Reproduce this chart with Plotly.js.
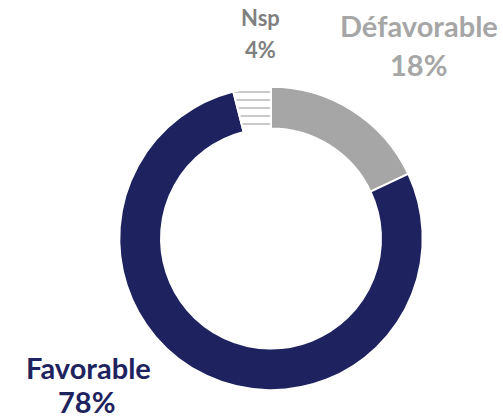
<!DOCTYPE html>
<html>
<head>
<meta charset="utf-8">
<script src="https://cdn.plot.ly/plotly-3.0.1.min.js"></script>
<style>html,body{margin:0;padding:0;background:#fff;}#chart{width:503px;height:418px;}</style>
</head>
<body>
<div id="chart"></div>
<script>
const labels = ["Défavorable", "Favorable", "Nsp"];
const values = [18, 78, 4];
const colors = ["#A6A6A6", "#1E2360", "#FFFFFF"];
const textColors = ["#A6A6A6", "#1E2360", "#7F7F7F"];
const patternShapes = ["", "", "-"];

// label (line 1) and value (line 2) centre positions, in pixels
const labelPos = [
  {x: 419, y: 25, vx: 418, vy: 65, size: 29},
  {x: 88.5, y: 367, vx: 86, vy: 401, size: 29},
  {x: 260.5, y: 17, vx: 260, vy: 50, size: 22}
];

const W = 503, H = 418;
const cx = 271, cy = 238.5, R = 151.7;

const trace = {
  type: "pie",
  labels: labels,
  values: values,
  sort: false,
  direction: "clockwise",
  rotation: 0,
  hole: 0.725,
  textinfo: "none",
  hoverinfo: "label+percent",
  marker: {
    colors: colors,
    line: {color: "#FFFFFF", width: 2},
    pattern: {
      shape: patternShapes,
      fgcolor: "#A6A6A6",
      bgcolor: colors,
      size: 8,
      solidity: 0.15
    }
  },
  domain: {
    x: [(cx - R) / W, (cx + R) / W],
    y: [(H - cy - R) / H, (H - cy + R) / H]
  },
  showlegend: false
};

const annotations = [];
labels.forEach((lab, i) => {
  const p = labelPos[i];
  const font = {family: "Lato, 'Open Sans', sans-serif", size: p.size, color: textColors[i], weight: 700};
  annotations.push({
    x: p.x / W, y: 1 - p.y / H, xref: "paper", yref: "paper",
    xanchor: "center", yanchor: "middle", showarrow: false,
    text: "<b>" + lab + "</b>", font: font
  });
  annotations.push({
    x: p.vx / W, y: 1 - p.vy / H, xref: "paper", yref: "paper",
    xanchor: "center", yanchor: "middle", showarrow: false,
    text: "<b>" + values[i] + "%</b>", font: font
  });
});

const layout = {
  width: W, height: H,
  margin: {l: 0, r: 0, t: 0, b: 0},
  paper_bgcolor: "#FFFFFF",
  plot_bgcolor: "#FFFFFF",
  annotations: annotations
};

Plotly.newPlot("chart", [trace], layout, {displayModeBar: false, staticPlot: true});
</script>
</body>
</html>
